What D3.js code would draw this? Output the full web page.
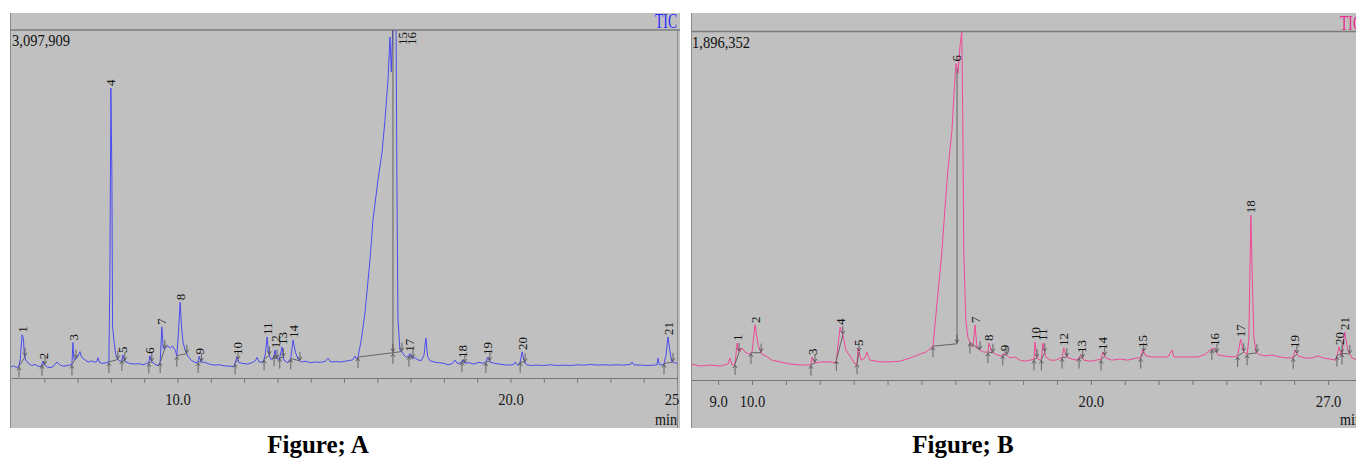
<!DOCTYPE html>
<html>
<head>
<meta charset="utf-8">
<title>TIC chromatograms A and B</title>
<script src="https://d3js.org/d3.v7.min.js"></script>
<style>
  body { margin: 0; background: #fff; }
  svg text { font-family: "Liberation Serif", "Times New Roman", serif; }
  .trace { fill: none; stroke-width: 1; stroke-linejoin: round; }
  .integ { fill: none; stroke: #4d4d4d; stroke-width: 0.8; }
  .peak-label { font-size: 13px; fill: #111; }
  .axis text { font-size: 17px; fill: #1a1a1a; }
  .axis line, .axis path { stroke: #777; }
  .caption { font-size: 25px; font-weight: bold; fill: #000; }
</style>
</head>
<body>
<div id="chart"></div>
<script>
// ---- data (time in min, intensity in % of full scale) ----
const maxA = 3097909;
const maxB = 1896352;

const traceA = [
  [5.00,3.2],[5.08,3.5],[5.16,3.0],[5.24,3.4],[5.28,5.5],[5.33,12.4],[5.37,11.6],[5.40,7.0],[5.44,5.2],[5.52,4.2],
  [5.62,3.6],[5.72,3.9],[5.82,3.3],[5.92,3.5],[5.96,4.8],[6.01,3.8],[6.10,3.1],[6.20,3.0],[6.30,3.6],[6.38,4.6],
  [6.45,3.9],[6.55,3.4],[6.65,3.5],[6.75,3.7],[6.83,3.9],[6.86,10.2],[6.89,5.4],[6.96,5.6],[7.03,6.6],[7.07,7.6],
  [7.12,6.0],[7.22,5.2],[7.32,4.6],[7.42,4.9],[7.52,4.5],[7.58,4.8],[7.61,5.8],[7.66,4.4],[7.76,4.2],[7.86,4.4],
  [7.94,4.6],[7.97,30],[8.00,83.3],[8.03,58],[8.05,15],[8.09,10.8],[8.14,7.0],[8.20,5.4],[8.28,4.8],[8.33,5.2],
  [8.36,6.6],[8.42,4.8],[8.55,4.2],[8.70,4.0],[8.85,4.1],[8.97,3.8],[9.07,4.2],[9.14,4.4],[9.17,6.4],[9.23,4.6],
  [9.32,4.0],[9.42,3.5],[9.48,4.6],[9.53,14.7],[9.57,8.6],[9.62,8.4],[9.70,9.3],[9.78,8.6],[9.85,9.2],[9.93,8.0],
  [9.98,6.4],[10.03,13.2],[10.08,21.8],[10.12,15.0],[10.17,10.0],[10.24,7.8],[10.32,6.2],[10.42,5.0],[10.55,4.4],[10.62,4.6],
  [10.65,6.2],[10.71,4.6],[10.82,4.5],[10.95,4.0],[11.10,3.7],[11.25,3.8],[11.40,3.5],[11.55,3.4],[11.70,3.3],[11.79,6.0],
  [11.85,4.4],[11.96,4.2],[12.10,4.0],[12.24,4.4],[12.34,5.0],[12.39,5.9],[12.45,4.6],[12.58,4.6],[12.64,7.0],[12.69,11.8],
  [12.73,7.4],[12.80,5.4],[12.88,5.6],[12.93,8.0],[12.98,5.6],[13.06,5.4],[13.14,8.9],[13.19,5.2],[13.30,4.4],[13.40,5.6],
  [13.47,10.9],[13.54,7.4],[13.62,5.4],[13.72,4.6],[13.85,4.8],[14.00,4.4],[14.15,4.6],[14.30,4.5],[14.44,4.8],[14.52,5.7],
  [14.60,4.6],[14.75,4.7],[14.90,4.6],[15.02,4.8],[15.14,5.0],[15.26,5.2],[15.33,6.3],[15.38,5.4],[15.42,6.0],[15.52,11],
  [15.63,18.7],[15.78,33.9],[15.87,45.4],[16.02,56.9],[16.14,64.7],[16.23,74],[16.32,85.6],[16.38,98],[16.42,88],[16.47,102],
  [16.51,115],[16.56,108],[16.59,55],[16.62,17],[16.68,8.0],[16.74,7.6],[16.80,6.6],[16.88,6.0],[16.95,6.4],[16.98,7.0],
  [17.05,5.6],[17.14,5.8],[17.22,5.2],[17.32,5.0],[17.40,6.5],[17.46,11.5],[17.51,6.2],[17.58,5.0],[17.70,4.6],[17.84,4.4],
  [18.00,4.2],[18.12,3.8],[18.25,4.1],[18.33,5.2],[18.40,4.2],[18.50,4.3],[18.57,5.2],[18.63,4.3],[18.76,4.4],[18.90,4.0],
  [19.05,4.5],[19.18,4.2],[19.26,4.6],[19.32,6.0],[19.39,4.6],[19.52,4.2],[19.66,4.0],[19.82,3.8],[19.98,3.7],[20.10,3.9],
  [20.14,4.6],[20.20,3.8],[20.28,4.2],[20.35,7.5],[20.40,5.2],[20.48,3.8],[20.62,3.6],[20.80,3.7],[21.00,3.6],[21.20,3.8],
  [21.40,3.6],[21.60,3.7],[21.80,3.6],[22.00,3.8],[22.20,3.7],[22.40,3.9],[22.60,3.7],[22.80,3.8],[23.00,3.7],[23.20,3.8],
  [23.40,3.7],[23.60,3.9],[23.65,4.6],[23.70,3.8],[23.90,3.7],[24.10,3.6],[24.30,3.7],[24.40,3.8],[24.43,5.7],[24.47,3.8],
  [24.60,3.8],[24.67,6.5],[24.73,11.8],[24.78,8.2],[24.84,4.8],[24.92,4.4],[25.00,4.2]
];

const traceB = [
  [8.20,4.6],[8.47,4.0],[8.76,4.3],[9.06,4.0],[9.29,4.6],[9.35,6.3],[9.41,4.3],[9.50,4.6],[9.56,10.6],[9.62,8.0],
  [9.71,9.2],[9.79,8.0],[9.91,7.4],[10.00,8.0],[10.09,15.8],[10.18,10.0],[10.29,7.4],[10.41,6.9],[10.59,5.7],[10.83,5.2],
  [11.12,4.6],[11.42,4.3],[11.65,4.3],[11.74,4.4],[11.77,6.6],[11.86,4.9],[12.06,5.2],[12.30,5.2],[12.48,4.9],[12.60,15.2],
  [12.68,12.9],[12.77,8.6],[12.89,6.9],[13.04,4.6],[13.10,4.8],[13.13,9.2],[13.22,5.7],[13.33,6.3],[13.39,8.0],[13.48,5.7],
  [13.78,5.2],[14.07,5.2],[14.37,5.4],[14.66,6.3],[14.90,7.2],[15.13,8.0],[15.34,9.7],[15.46,22.1],[15.60,36.4],[15.69,48.7],
  [15.78,60.2],[15.90,71.6],[15.96,82.2],[16.02,90.8],[16.08,88.0],[16.14,96],[16.19,100],[16.22,74.5],[16.25,36.4],[16.31,17.2],
  [16.37,12.3],[16.46,10.0],[16.52,9.5],[16.58,15.8],[16.64,9.2],[16.73,8.6],[16.84,8.0],[16.96,8.0],[16.99,10.6],[17.08,8.0],
  [17.23,7.2],[17.35,6.9],[17.46,7.7],[17.61,6.3],[17.76,6.6],[17.91,5.7],[18.05,5.4],[18.20,5.7],[18.32,5.9],[18.35,10.9],
  [18.41,6.3],[18.50,5.7],[18.54,5.9],[18.58,10.6],[18.67,6.6],[18.79,5.7],[18.97,5.7],[19.09,6.3],[19.15,6.4],[19.20,9.2],
  [19.29,6.6],[19.44,6.0],[19.59,5.7],[19.71,7.2],[19.79,5.7],[19.97,5.4],[20.15,5.7],[20.30,5.9],[20.35,8.0],[20.44,6.3],
  [20.62,5.7],[20.86,6.0],[21.09,5.7],[21.33,6.3],[21.47,6.4],[21.53,8.6],[21.62,6.9],[21.80,6.6],[22.04,6.6],[22.27,6.6],
  [22.39,8.6],[22.45,6.6],[22.68,6.6],[22.92,6.6],[23.16,6.6],[23.39,7.4],[23.51,8.6],[23.66,9.2],[23.75,7.2],[23.95,6.9],
  [24.16,6.6],[24.33,6.9],[24.42,11.7],[24.51,8.0],[24.61,7.4],[24.66,11.5],[24.72,47.3],[24.78,22.9],[24.81,12.3],[24.87,8.0],
  [24.99,7.2],[25.16,6.9],[25.34,7.2],[25.58,6.6],[25.81,6.3],[25.97,6.4],[26.02,8.6],[26.11,6.9],[26.31,6.3],[26.52,6.3],
  [26.70,6.9],[26.87,6.3],[27.05,6.0],[27.23,5.7],[27.32,9.5],[27.40,6.9],[27.49,13.8],[27.58,8.6],[27.70,6.3],[27.88,5.7],
  [28.00,5.7]
];

// peak number, start, apex, end (min)
const peaksA = [
  [1,5.24,5.33,5.42],[2,5.93,5.96,6.02],[3,6.83,6.86,6.95],[4,7.94,8.00,8.21],[5,8.33,8.36,8.42],
  [6,9.14,9.17,9.23],[7,9.48,9.53,9.62],[8,9.98,10.08,10.28],[9,10.62,10.65,10.72],[10,11.73,11.79,11.82],
  [11,12.60,12.69,12.76],[12,12.90,12.93,12.99],[13,13.07,13.14,13.18],[14,13.40,13.47,13.68],[15,15.42,16.38,16.47],
  [16,16.47,16.56,16.74],[17,16.95,16.98,17.07],[18,18.54,18.57,18.63],[19,19.26,19.32,19.38],[20,20.29,20.35,20.44],
  [21,24.61,24.73,24.88]
];
const peaksB = [
  [1,9.50,9.56,9.62],[2,9.97,10.09,10.27],[3,11.74,11.77,11.86],[4,12.49,12.60,12.68],[5,13.10,13.13,13.16],
  [6,15.34,16.02,16.05],[7,16.43,16.58,16.73],[8,16.96,16.99,17.11],[9,17.40,17.46,17.52],[10,18.32,18.35,18.41],
  [11,18.54,18.58,18.64],[12,19.15,19.20,19.29],[13,19.65,19.71,19.76],[14,20.30,20.35,20.41],[15,21.47,21.53,21.56],
  [16,23.57,23.66,23.72],[17,24.33,24.42,24.51],[18,24.61,24.72,24.90],[19,25.97,26.02,26.08],[20,27.26,27.32,27.41],
  [21,27.41,27.49,27.64]
];
// perpendicular drops: group start, drop time, group end
const dropsA = [[15.42,16.47,16.74]];
const dropsB = [[15.34,16.05,16.43]];

const labelTicksA = [10, 20, 25];
const labelTicksB = [9, 10, 20, 27];
const captions = ["Figure; A", "Figure; B"];

// ---- drawing ----
const W = 1356, H = 458;
const svg = d3.select("#chart").append("svg")
  .attr("width", W).attr("height", H);

function drawPanel(p, trace, peaks, drops, labelTicks, maxCount, color, ticColor) {
  const defs = svg.append("defs");
  defs.append("clipPath").attr("id", "panel-" + p.id).append("rect")
    .attr("x", p.left).attr("y", p.top).attr("width", p.right - p.left).attr("height", p.bottom - p.top);
  defs.append("clipPath").attr("id", "plot-" + p.id).append("rect")
    .attr("x", p.plotL).attr("y", p.plotT).attr("width", p.plotR - p.plotL).attr("height", p.axisY - p.plotT);

  const g = svg.append("g").attr("clip-path", `url(#panel-${p.id})`);
  g.append("rect").attr("x", p.left).attr("y", p.top)
    .attr("width", p.right - p.left).attr("height", p.bottom - p.top).attr("fill", "#c0c0c0");

  const x = d3.scaleLinear().domain(p.domain).range([p.plotL, p.plotR]);
  const y = d3.scaleLinear().domain([0, 100]).range([p.axisY, p.plotT]);

  // frame
  g.append("line").attr("x1", p.left + 0.5).attr("x2", p.left + 0.5).attr("y1", p.top).attr("y2", p.bottom)
    .attr("stroke", "#8a8a8a");
  g.append("line").attr("x1", p.left).attr("x2", p.right).attr("y1", p.plotT).attr("y2", p.plotT)
    .attr("stroke", "#7c7c7c").attr("stroke-width", 1.5);
  g.append("line").attr("x1", p.plotR + 0.5).attr("x2", p.plotR + 0.5).attr("y1", p.plotT).attr("y2", p.bottom)
    .attr("stroke", "#8a8a8a");

  // axis
  const ticks = d3.range(Math.floor(p.domain[0]) + 1, Math.floor(p.domain[1]) + 1);
  const axis = d3.axisBottom(x).tickValues(ticks).tickSize(5).tickSizeOuter(0).tickPadding(10)
    .tickFormat(d => labelTicks.includes(d) ? d.toFixed(1) : "");
  g.append("g").attr("class", "axis").attr("transform", `translate(0,${p.axisY})`).call(axis)
    .call(a => a.selectAll("text").attr("transform", "scale(0.86,1)"));

  // trace
  const line = d3.line().x(d => x(d[0])).y(d => y(d[1]));
  g.append("g").attr("clip-path", `url(#plot-${p.id})`)
    .append("path").datum(trace).attr("class", "trace").attr("stroke", color).attr("d", line);

  const bis = d3.bisector(d => d[0]).left;
  function vAt(t) {
    const i = bis(trace, t);
    if (i <= 0) return trace[0][1];
    if (i >= trace.length) return trace[trace.length - 1][1];
    const a = trace[i - 1], b = trace[i];
    return a[1] + (b[1] - a[1]) * (t - a[0]) / (b[0] - a[0]);
  }
  function baseAt(t) {
    for (const d of drops) {
      if (Math.abs(t - d[1]) < 1e-6) {
        return vAt(d[0]) + (vAt(d[2]) - vAt(d[0])) * (t - d[0]) / (d[2] - d[0]);
      }
    }
    return vAt(t);
  }

  // drop lines
  drops.forEach(d => {
    g.append("line").attr("class", "integ")
      .attr("x1", x(d[1])).attr("x2", x(d[1]))
      .attr("y1", y(baseAt(d[1]))).attr("y2", y(Math.min(vAt(d[1]), 100)));
  });

  // integration baselines and start/end arrows
  peaks.forEach(([n, s, a, e]) => {
    const xs = x(s), ys = y(baseAt(s)), xe = x(e), ye = y(baseAt(e));
    g.append("path").attr("class", "integ").attr("d", `M${xs},${ys}L${xe},${ye}`);
    g.append("path").attr("class", "integ")
      .attr("d", `M${xs},${ys + 11}V${ys + 1}M${xs - 2},${ys + 4}L${xs},${ys + 1}L${xs + 2},${ys + 4}`);
    g.append("path").attr("class", "integ")
      .attr("d", `M${xe},${ye - 9}V${ye - 1}M${xe - 2},${ye - 4}L${xe},${ye - 1}L${xe + 2},${ye - 4}`);
  });

  // peak numbers
  peaks.forEach(([n, s, a, e]) => {
    let lx = x(a), ly = y(Math.min(vAt(a), 100)) - 2;
    const len = String(n).length * 6.5;
    if (ly - len < p.plotT + 2) { ly = p.plotT + 2 + len; lx = x(e) + 9; }
    g.append("text").attr("class", "peak-label")
      .attr("transform", `translate(${lx},${ly}) rotate(-90)`)
      .attr("dy", "0.35em").text(n);
  });

  // texts
  g.append("text").attr("x", p.plotL + 1).attr("y", p.plotT + 16)
    .attr("font-size", 17).attr("textLength", 58).attr("lengthAdjust", "spacingAndGlyphs")
    .attr("fill", "#111").text(d3.format(",")(maxCount));
  g.append("text").attr("x", p.plotR - 22).attr("y", p.plotT - 2)
    .attr("font-size", 21).attr("textLength", 22).attr("lengthAdjust", "spacingAndGlyphs")
    .attr("fill", ticColor).text("TIC");
  g.append("text").attr("x", p.plotR - 22).attr("y", 425)
    .attr("font-size", 16).attr("textLength", 22).attr("lengthAdjust", "spacingAndGlyphs")
    .attr("fill", "#111").text("min");
}

const panelA = { id: "a", left: 10, right: 680, top: 13, bottom: 428, plotL: 11, plotR: 677, plotT: 30, axisY: 378, domain: [5, 25] };
const panelB = { id: "b", left: 691, right: 1366, top: 13, bottom: 428, plotL: 691, plotR: 1362, plotT: 31.5, axisY: 380, domain: [8.2, 28] };

drawPanel(panelA, traceA, peaksA, dropsA, labelTicksA, maxA, "#4b4bf0", "#2a2aff");
drawPanel(panelB, traceB, peaksB, dropsB, labelTicksB, maxB, "#ef4896", "#e8268a");

svg.selectAll(".caption").data(captions).join("text")
  .attr("class", "caption")
  .attr("x", (d, i) => i === 0 ? 318 : 963)
  .attr("y", 453)
  .attr("text-anchor", "middle")
  .text(d => d);
</script>
</body>
</html>
